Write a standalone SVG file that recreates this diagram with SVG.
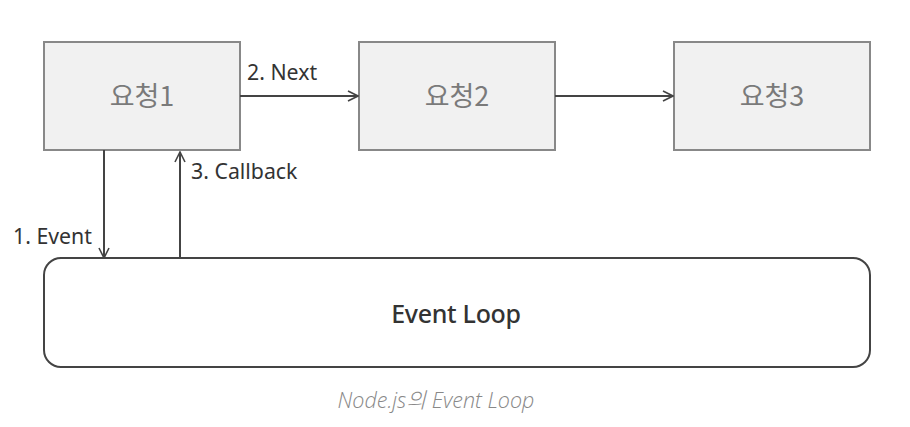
<svg xmlns="http://www.w3.org/2000/svg" width="910" height="427" viewBox="0 0 910 427">
<style>
.box{fill:#f1f1f1;stroke:#888;stroke-width:2}
.btxt{font-family:"Noto Sans CJK KR","Noto Sans",sans-serif;font-size:27px;fill:#7a7a7a;text-anchor:middle}
.lbl{font-family:"Noto Sans","Noto Sans CJK KR",sans-serif;font-size:21.3px;fill:#333}
.con{stroke:#444;stroke-width:2;fill:none}
</style>
<defs>
<marker id="ah" viewBox="0 0 12 12" refX="11" refY="6" markerWidth="12" markerHeight="12" markerUnits="userSpaceOnUse" orient="auto">
<path d="M1,1 L11,6 L1,11" fill="none" stroke="#444" stroke-width="1.6"/>
</marker>
</defs>
<rect width="910" height="427" fill="#fff"/>
<g id="node-req1"><rect class="box" x="44" y="42" width="196" height="108"/><text class="btxt" x="142" y="106">요청1</text></g>
<g id="node-req2"><rect class="box" x="359" y="42" width="196" height="108"/><text class="btxt" x="457" y="106">요청2</text></g>
<g id="node-req3"><rect class="box" x="674" y="42" width="196" height="108"/><text class="btxt" x="772" y="106">요청3</text></g>
<g id="node-loop"><rect x="44" y="258" width="826" height="109" rx="17" fill="#fff" stroke="#444" stroke-width="2"/><text x="456" y="323" text-anchor="middle" font-family="Noto Sans, sans-serif" font-size="25" font-weight="500" fill="#333" letter-spacing="-0.3">Event Loop</text></g>
<g id="connectors">
<line class="con" x1="240" y1="96" x2="358" y2="96" marker-end="url(#ah)"/>
<line class="con" x1="555" y1="96" x2="673" y2="96" marker-end="url(#ah)"/>
<line class="con" x1="104" y1="150" x2="104" y2="258" marker-end="url(#ah)"/>
<line class="con" x1="180" y1="258" x2="180" y2="152" marker-end="url(#ah)"/>
<text class="lbl" x="247" y="80">2. Next</text>
<text class="lbl" x="191" y="179">3. Callback</text>
<text class="lbl" x="13" y="244">1. Event</text>
</g>
<text x="436" y="408" text-anchor="middle" font-family="Open Sans, Noto Sans, Noto Sans CJK KR, sans-serif" font-style="italic" font-weight="300" font-size="21.5" fill="#888">Node.js의 Event Loop</text>
</svg>
